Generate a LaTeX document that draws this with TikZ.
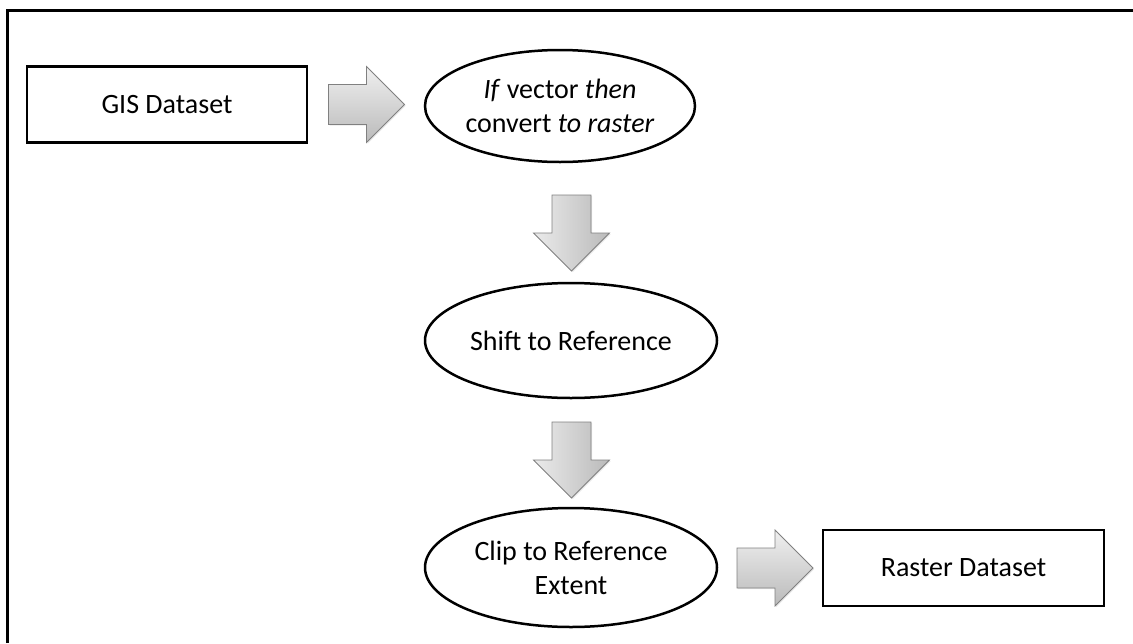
\documentclass[tikz,border=0pt]{standalone}
\usepackage{fontspec}
\setmainfont{Carlito}
\usetikzlibrary{shapes.geometric,shadows}
\begin{document}
\begin{tikzpicture}[x=1pt,y=-1pt,
  every node/.style={font=\fontsize{28}{34}\selectfont, align=center, inner sep=0pt, text=black},
  boxnode/.style={draw=black, line width=2.7pt, minimum width=280pt, minimum height=76pt},
  ellnode/.style={ellipse, draw=black, line width=2.5pt},
  frameline/.style={draw=black, line width=3pt},
  blockarrow/.style={draw=black!50, line width=0.8pt, line join=miter,
    drop shadow={opacity=0.18, shadow xshift=1.2pt, shadow yshift=-1.2pt}},
  rshade/.style={top color=black!6, bottom color=black!27},
  dshade/.style={left color=black!8, right color=black!27},
  rightarrow/.pic={
    \path[blockarrow,rshade] (-38,-20) -- (0,-20) -- (0,-38) -- (38,0)
      -- (0,38) -- (0,20) -- (-38,20) -- cycle;},
  downarrow/.pic={
    \path[blockarrow,dshade] (-19.5,-38) -- (19.5,-38) -- (19.5,0) -- (38,0)
      -- (0,38) -- (-38,0) -- (-19.5,0) -- cycle;}
]
\useasboundingbox (0,0) rectangle (1133,643);

% outer frame (top and left edges)
\coordinate (fbl) at (7.5,643);
\coordinate (ftl) at (7.5,10);
\coordinate (ftr) at (1133,10);
\draw[frameline] (fbl) -- (ftl) -- (ftr);

% process steps
\node[boxnode] (gis) at (167,104.5) {GIS Dataset};
\node[ellnode, minimum width=270pt, minimum height=112pt] (conv) at (560,106)
  {\textit{If} vector \textit{then}\\convert \textit{to raster}};
\node[ellnode, minimum width=292pt, minimum height=115pt] (shift) at (571,340.5)
  {Shift to Reference};
\node[ellnode, minimum width=292pt, minimum height=119pt] (clip) at (571,567.5)
  {Clip to Reference\\Extent};
\node[boxnode, minimum width=281pt] (raster) at (963.5,568) {Raster Dataset};

% block arrows between the steps
\pic (a1) at (366.5,104.5) {rightarrow};
\pic (a2) at (571.5,233) {downarrow};
\pic (a3) at (571.5,460) {downarrow};
\pic (a4) at (775,568) {rightarrow};
\end{tikzpicture}
\end{document}
